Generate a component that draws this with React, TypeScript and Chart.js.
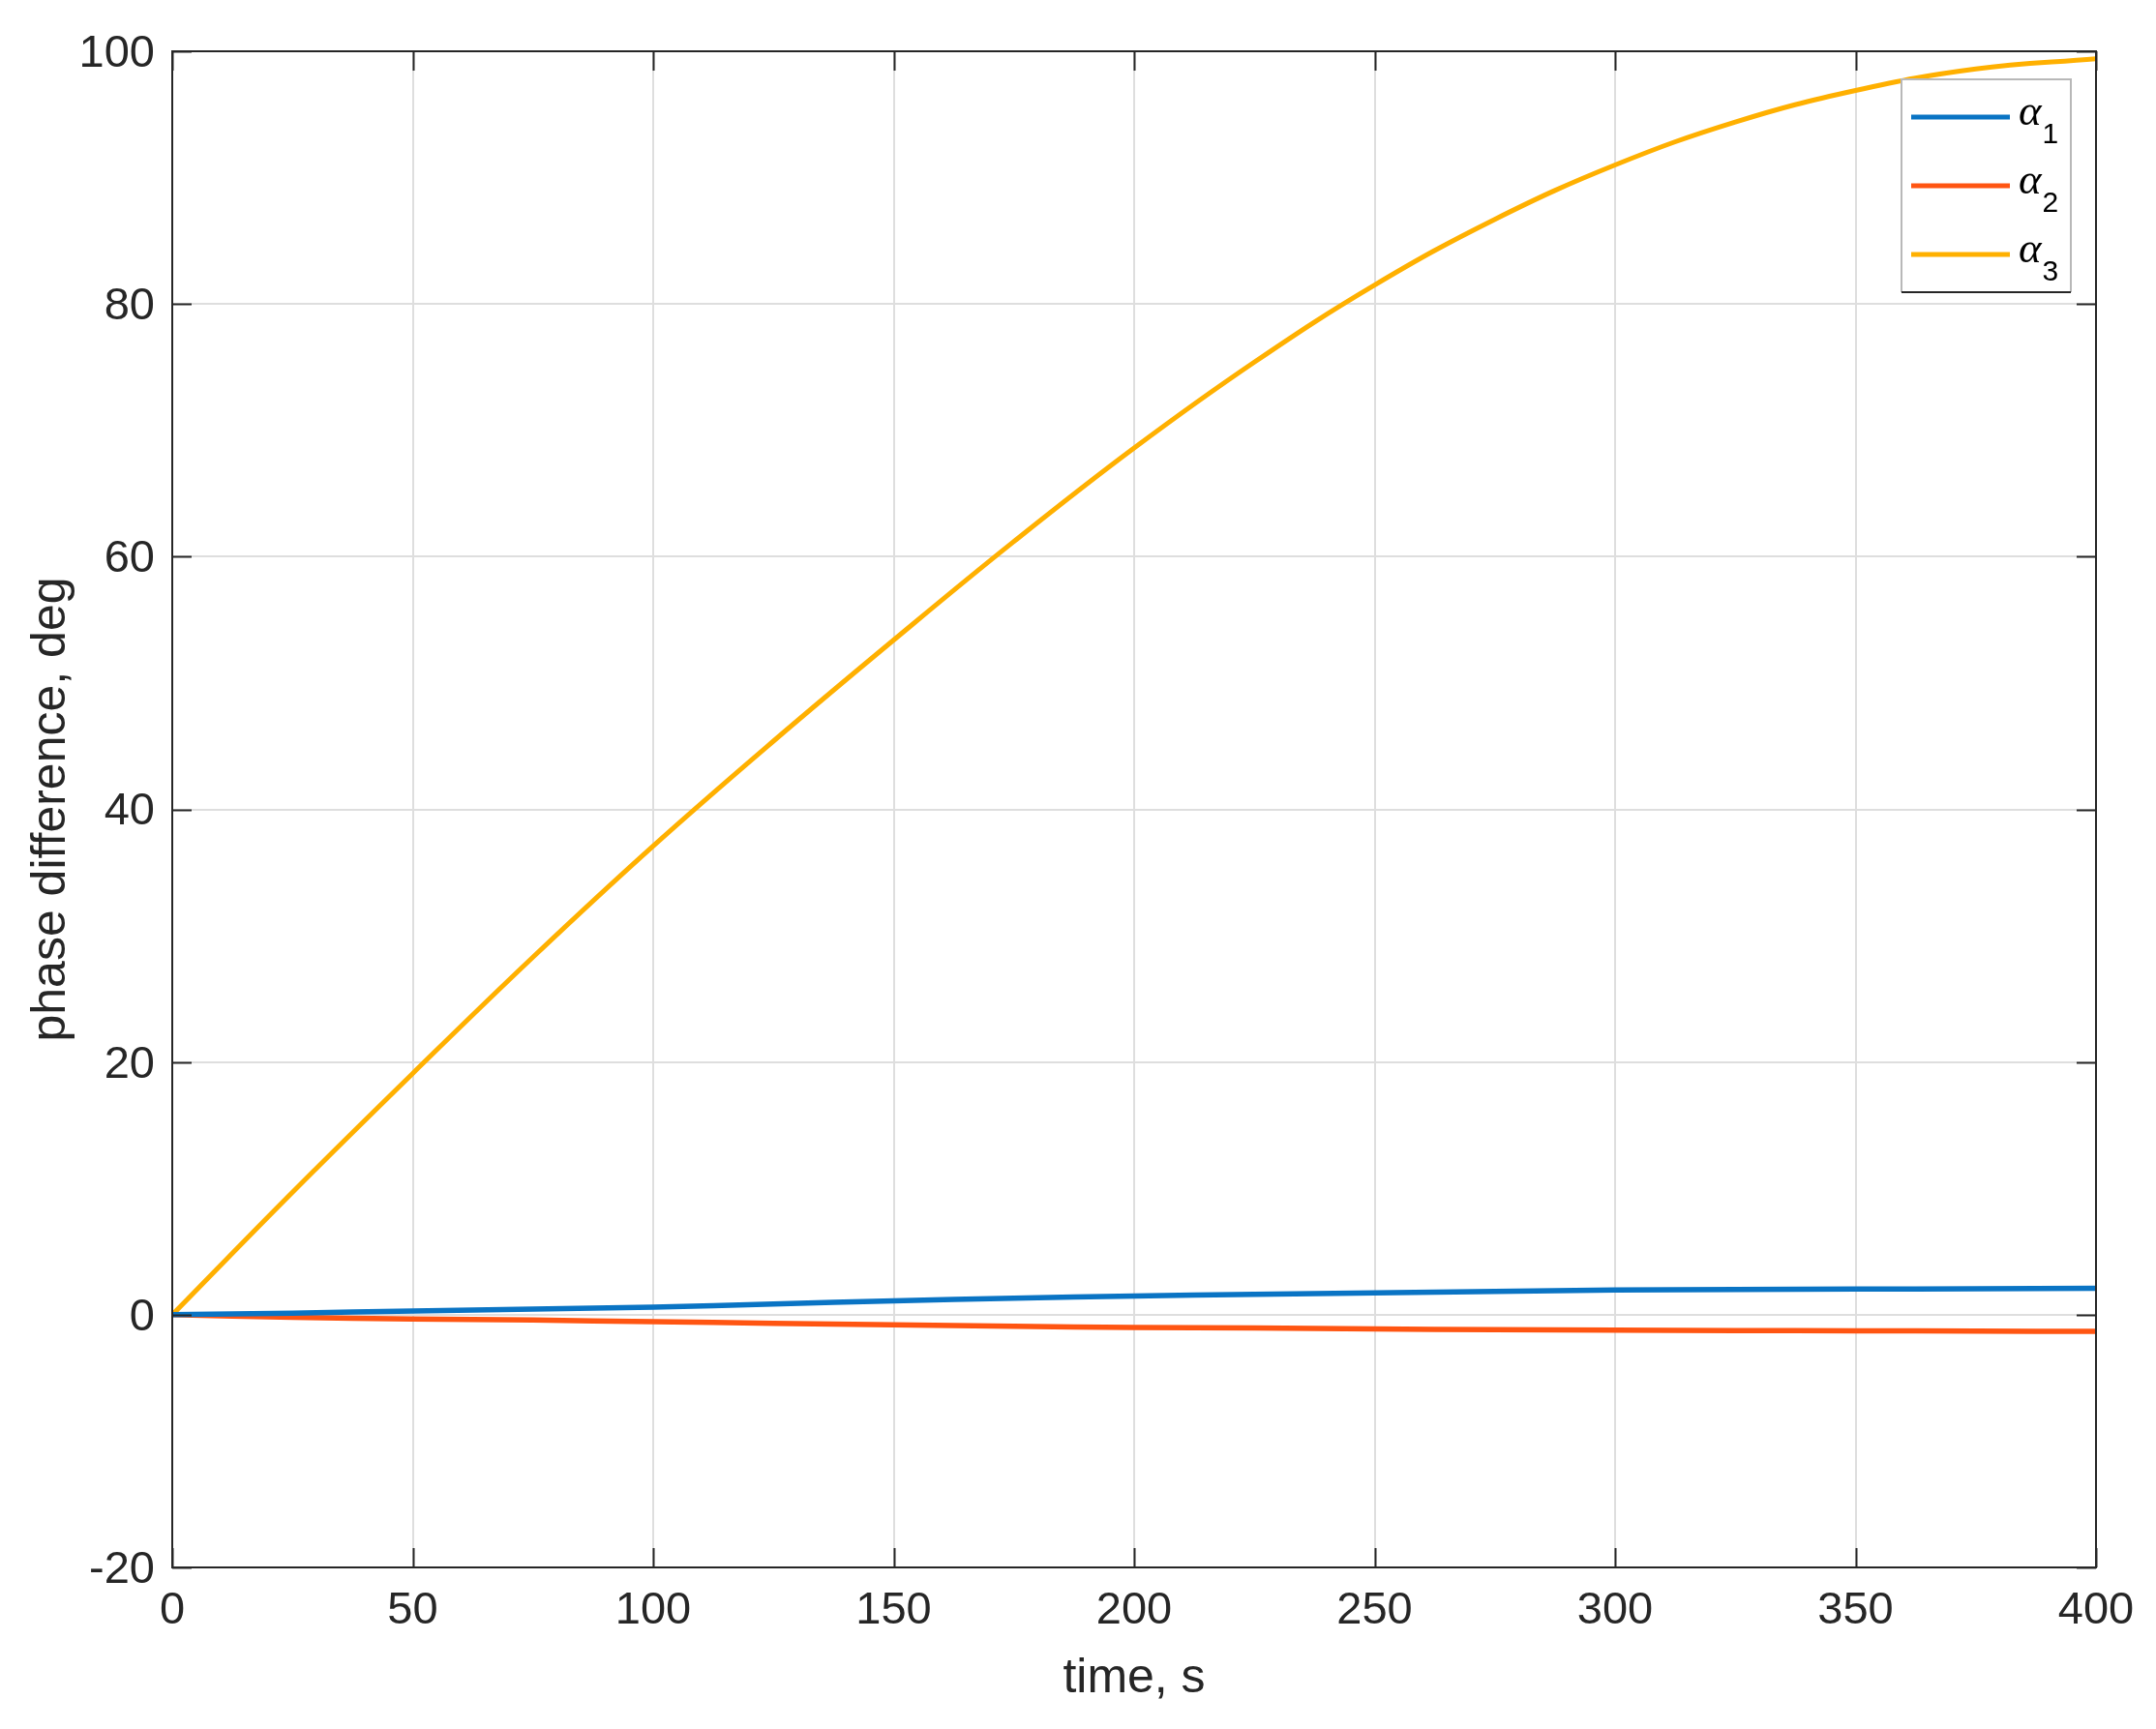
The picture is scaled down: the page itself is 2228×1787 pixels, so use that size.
import React, { useEffect, useRef } from "react";
import { Chart, registerables } from "chart.js";

Chart.register(...registerables);

// ---- data ----
const timeS = [0, 25, 50, 75, 100, 125, 150, 175, 200, 225, 250, 275, 300, 325, 350, 375, 400];
const alpha1 = [0, 0.12, 0.3, 0.45, 0.6, 0.85, 1.1, 1.3, 1.48, 1.62, 1.72, 1.85, 1.95, 2.0, 2.03, 2.06, 2.1];
const alpha2 = [0, -0.2, -0.33, -0.42, -0.55, -0.68, -0.8, -0.92, -1.0, -1.05, -1.12, -1.18, -1.22, -1.25, -1.27, -1.3, -1.32];
const alpha3 = [0, 9.7, 19.1, 28.3, 37.1, 45.4, 53.4, 61.2, 68.6, 75.4, 81.5, 86.7, 91.0, 94.4, 96.9, 98.6, 99.4];
const xTicks = [0, 50, 100, 150, 200, 250, 300, 350, 400];
const yTicks = [-20, 0, 20, 40, 60, 80, 100];
const seriesSubscripts = ["1", "2", "3"];
const seriesColors = ["#0a74c4", "#ff5512", "#ffb000"];
const xTitle = "time, s";
const yTitle = "phase difference, deg";

const AXIS_COLOR = "#262626";
const GRID_COLOR = "#dedede";
const SANS = '"Liberation Sans", Arial, Helvetica, sans-serif';

const framePlugin = {
  id: "frame",
  beforeDraw(chart: any) {
    const { ctx, width, height } = chart;
    ctx.save();
    ctx.fillStyle = "#ffffff";
    ctx.fillRect(0, 0, width, height);
    ctx.restore();
  },
  afterDatasetsDraw(chart: any) {
    const { ctx, chartArea } = chart;
    const { left, right, top, bottom } = chartArea;
    const xs = chart.scales.x;
    const ys = chart.scales.y;
    const tl = 20;
    ctx.save();
    ctx.strokeStyle = AXIS_COLOR;
    ctx.lineWidth = 2;
    ctx.beginPath();
    for (const v of xTicks) {
      const px = Math.round(xs.getPixelForValue(v)) + 0.5;
      ctx.moveTo(px, bottom);
      ctx.lineTo(px, bottom - tl);
      ctx.moveTo(px, top);
      ctx.lineTo(px, top + tl);
    }
    for (const v of yTicks) {
      const py = Math.round(ys.getPixelForValue(v)) + 0.5;
      ctx.moveTo(left, py);
      ctx.lineTo(left + tl, py);
      ctx.moveTo(right, py);
      ctx.lineTo(right - tl, py);
    }
    ctx.stroke();
    ctx.strokeRect(left, top, right - left, bottom - top);
    ctx.restore();
  },
  afterDraw(chart: any) {
    const { ctx, chartArea } = chart;
    const bx = chartArea.right - 201;
    const by = chartArea.top + 29;
    const bw = 175;
    const bh = 220;
    ctx.save();
    ctx.fillStyle = "#ffffff";
    ctx.fillRect(bx, by, bw, bh);
    ctx.lineWidth = 2;
    ctx.strokeStyle = "#b8b8b8";
    ctx.beginPath();
    ctx.moveTo(bx, by + bh);
    ctx.lineTo(bx, by);
    ctx.lineTo(bx + bw, by);
    ctx.lineTo(bx + bw, by + bh);
    ctx.stroke();
    ctx.strokeStyle = AXIS_COLOR;
    ctx.beginPath();
    ctx.moveTo(bx, by + bh);
    ctx.lineTo(bx + bw, by + bh);
    ctx.stroke();

    chart.data.datasets.forEach((ds: any, i: number) => {
      const ly = by + 39 + i * 71;
      ctx.strokeStyle = ds.borderColor;
      ctx.lineWidth = 5;
      ctx.beginPath();
      ctx.moveTo(bx + 10, ly);
      ctx.lineTo(bx + 112, ly);
      ctx.stroke();
      ctx.fillStyle = "#000000";
      ctx.textAlign = "left";
      ctx.textBaseline = "alphabetic";
      ctx.font = 'italic 45px "Liberation Serif", "DejaVu Serif", serif';
      const ax = bx + 121;
      ctx.fillText("α", ax, ly + 8);
      const aw = ctx.measureText("α").width;
      ctx.font = "30px " + SANS;
      ctx.fillText(seriesSubscripts[i], ax + aw + 1, ly + 27);
    });
    ctx.restore();
  },
};

export default function App() {
  const canvasRef = useRef<HTMLCanvasElement | null>(null);

  useEffect(() => {
    const canvas = canvasRef.current;
    if (!canvas) return;
    const mk = (vals: number[]) => timeS.map((t, i) => ({ x: t, y: vals[i] }));
    const series = [alpha1, alpha2, alpha3];
    const chart = new Chart(canvas, {
      type: "line",
      data: {
        datasets: series.map((vals, i) => ({
          label: "α" + seriesSubscripts[i],
          data: mk(vals),
          borderColor: seriesColors[i],
          backgroundColor: seriesColors[i],
          borderWidth: i === 2 ? 5 : 5.5,
          pointRadius: 0,
          fill: false,
          tension: 0.4,
        })),
      },
      options: {
        responsive: false,
        animation: false,
        devicePixelRatio: 1,
        layout: { padding: { left: 0, top: 53, right: 62, bottom: 0 } },
        plugins: {
          legend: { display: false },
          tooltip: { enabled: false },
        },
        scales: {
          x: {
            type: "linear",
            min: 0,
            max: 400,
            afterBuildTicks: (scale: any) => {
              scale.ticks = xTicks.map((v) => ({ value: v }));
            },
            afterFit: (scale: any) => {
              scale.height = 167;
            },
            grid: { color: GRID_COLOR, lineWidth: 2, drawTicks: false },
            border: { display: false },
            ticks: {
              color: AXIS_COLOR,
              padding: 17,
              maxRotation: 0,
              font: { family: SANS, size: 47 },
            },
            title: {
              display: true,
              text: xTitle,
              color: AXIS_COLOR,
              font: { family: SANS, size: 50 },
              padding: { top: 0, bottom: 22 },
            },
          },
          y: {
            type: "linear",
            min: -20,
            max: 100,
            afterBuildTicks: (scale: any) => {
              scale.ticks = yTicks.map((v) => ({ value: v }));
            },
            afterFit: (scale: any) => {
              scale.width = 178;
            },
            grid: { color: GRID_COLOR, lineWidth: 2, drawTicks: false },
            border: { display: false },
            ticks: {
              color: AXIS_COLOR,
              padding: 18,
              labelOffset: 3,
              font: { family: SANS, size: 47 },
            },
            title: {
              display: true,
              text: yTitle,
              color: AXIS_COLOR,
              font: { family: SANS, size: 50 },
              padding: { top: 23, bottom: 0 },
            },
          },
        },
      },
      plugins: [framePlugin],
    } as any);
    return () => chart.destroy();
  }, []);

  return (
    <div style={{ position: "absolute", left: 0, top: 0, width: 2228, height: 1787, background: "#fff" }}>
      <canvas ref={canvasRef} width={2228} height={1787} style={{ display: "block" }} />
    </div>
  );
}
